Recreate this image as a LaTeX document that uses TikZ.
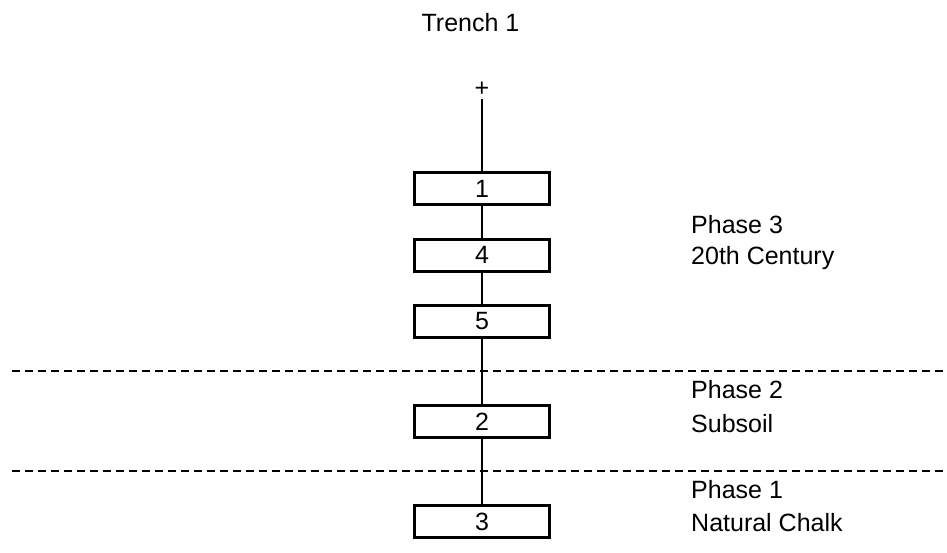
\documentclass[tikz,border=0pt]{standalone}
\usepackage{fontspec}
\setmainfont{Liberation Sans}
\begin{document}
\begin{tikzpicture}[x=1pt,y=-1pt,
  unit/.style={draw,line width=3pt,minimum width=135pt,minimum height=32pt,inner sep=0pt},
  link/.style={line width=1.5pt},
  phaseline/.style={line width=2pt,dash pattern=on 8pt off 5pt},
  lbl/.style={anchor=base west,inner sep=0pt},
  every node/.style={font=\fontsize{25}{30}\selectfont}]
  \useasboundingbox (0,0) rectangle (947,552);
  % title
  \node[anchor=base,inner sep=0pt] (title) at (470.5,31) {Trench 1};
  % phase boundaries
  \coordinate (d1l) at (12,371);  \coordinate (d1r) at (947,371);
  \coordinate (d2l) at (12,471);  \coordinate (d2r) at (947,471);
  \draw[phaseline] (d1l) -- (d1r);
  \draw[phaseline] (d2l) -- (d2r);
  % stratigraphic units
  \node[inner sep=3pt] (top) at (482,89) {+};
  \node[unit] (u1) at (482,188.5) {1};
  \node[unit] (u4) at (482,255) {4};
  \node[unit] (u5) at (482,321) {5};
  \node[unit] (u2) at (482,421.5) {2};
  \node[unit] (u3) at (482,521.5) {3};
  % sequence
  \draw[link] (top.south) -- (u1.north);
  \draw[link] (u1) -- (u4);
  \draw[link] (u4) -- (u5);
  \draw[link] (u5) -- (u2);
  \draw[link] (u2) -- (u3);
  % phase labels
  \node[lbl] (p3) at (691,233) {Phase 3};
  \node[lbl] (p3d) at (691,264) {20th Century};
  \node[lbl] (p2) at (691,398) {Phase 2};
  \node[lbl] (p2d) at (691,432) {Subsoil};
  \node[lbl] (p1) at (691,498) {Phase 1};
  \node[lbl] (p1d) at (691,531) {Natural Chalk};
\end{tikzpicture}
\end{document}
